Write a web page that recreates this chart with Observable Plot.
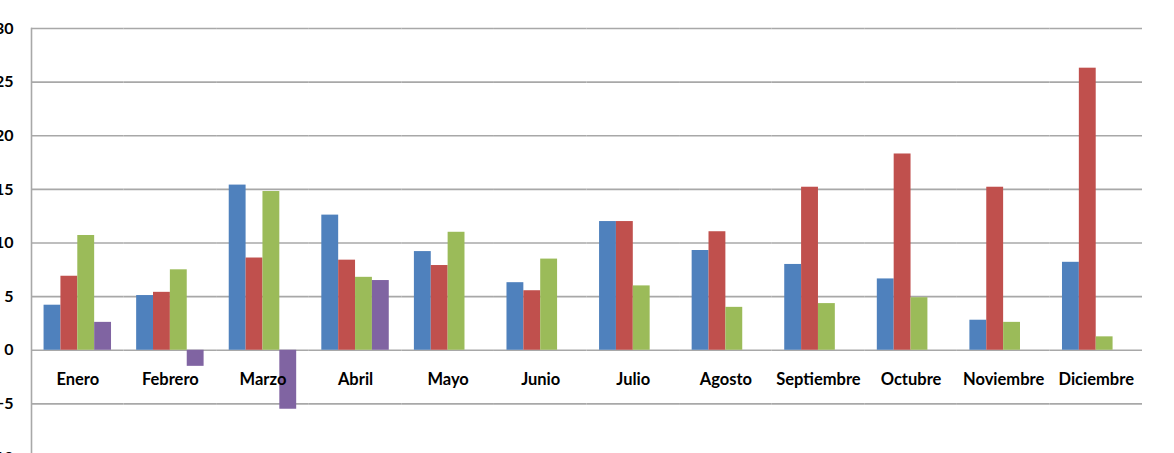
<!DOCTYPE html>
<html>
<head>
<meta charset="utf-8">
<script src="https://cdn.jsdelivr.net/npm/d3@7"></script>
<script src="https://cdn.jsdelivr.net/npm/@observablehq/plot@0.6"></script>
<style>
  html, body { margin: 0; padding: 0; background: #fff; overflow: hidden; }
  #chart svg { display: block; }
</style>
</head>
<body>
<div id="chart"></div>
<script>
const months = ["Enero", "Febrero", "Marzo", "Abril", "Mayo", "Junio", "Julio", "Agosto", "Septiembre", "Octubre", "Noviembre", "Diciembre"];
const seriesNames = ["Serie 1", "Serie 2", "Serie 3", "Serie 4"];
const serie1 = [4.2, 5.1, 15.4, 12.6, 9.2, 6.3, 12.0, 9.3, 8.0, 6.65, 2.8, 8.2];
const serie2 = [6.9, 5.4, 8.6, 8.4, 7.9, 5.55, 12.0, 11.05, 15.2, 18.3, 15.2, 26.3];
const serie3 = [10.7, 7.5, 14.8, 6.8, 11.0, 8.5, 6.0, 4.0, 4.35, 4.9, 2.6, 1.25];
const serie4 = [2.6, -1.5, -5.5, 6.5, null, null, null, null, null, null, null, null];
const yTicks = [-10, -5, 0, 5, 10, 15, 20, 25, 30];
const colors = ["#4F81BD", "#C0504D", "#9BBB59", "#8064A2"];

const allSeries = [serie1, serie2, serie3, serie4];
const table = months.flatMap((m, i) =>
  allSeries.map((s, k) => ({month: m, serie: seriesNames[k], value: s[i]}))
).filter(d => d.value != null);

const font = "Lato, 'Open Sans', sans-serif";

const chart = Plot.plot({
  width: 1174,
  height: 457,
  marginTop: 28,
  marginBottom: 0,
  marginLeft: 31,
  marginRight: 32,
  style: {fontFamily: font, fontWeight: "bold", fontSize: "16px", color: "#000", background: "#fff"},
  fx: {domain: months, padding: 0, round: false, axis: null},
  x: {domain: seriesNames, paddingInner: 0, paddingOuter: 0.745, round: false, axis: null},
  y: {domain: [-10, 30], axis: null},
  color: {domain: seriesNames, range: colors},
  marks: [
    Plot.gridY(yTicks, {stroke: "#a8a8a8", strokeOpacity: 1, strokeWidth: 1.6}),
    Plot.frame({anchor: "left", stroke: "#a8a8a8", strokeWidth: 1.6, fx: [months[0]]}),
    Plot.axisY(yTicks, {tickSize: 0, tickPadding: 18, fontSize: 16, fontWeight: "bold", fill: "#000", label: null}),
    Plot.barY(table, {fx: "month", x: "serie", y: "value", fill: "serie"}),
    Plot.text(months, {fx: d => d, y: () => 0, text: d => d, dy: 29, fontSize: 16.5, fontWeight: "bold", fill: "#000", lineAnchor: "middle"})
  ]
});
document.getElementById("chart").append(chart);
</script>
</body>
</html>
